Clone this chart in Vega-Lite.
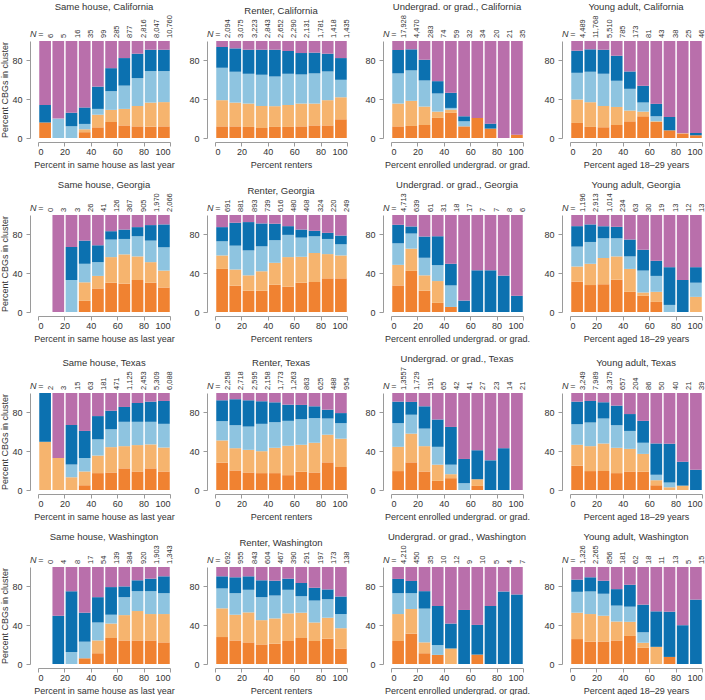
{
"$schema":"https://vega.github.io/schema/vega-lite/v6.json",
"padding":{"left":0,"top":1,"right":0,"bottom":0},
"columns":4,
"spacing":{"row":10,"column":13},
"data":{"values":[
{"p":"SC","lo":0,"n":"6","a":16,"b":0,"c":0,"d":18,"e":66},
{"p":"SC","lo":10,"n":"5","a":0,"b":0,"c":20,"d":0,"e":80},
{"p":"SC","lo":20,"n":"16","a":0,"b":0,"c":12,"d":14,"e":74},
{"p":"SC","lo":30,"n":"35","a":6,"b":3,"c":5.5,"d":17,"e":68.5},
{"p":"SC","lo":40,"n":"99","a":11,"b":13,"c":6,"d":23,"e":47},
{"p":"SC","lo":50,"n":"285","a":16.5,"b":12.5,"c":19.3,"d":23.7,"e":28},
{"p":"SC","lo":60,"n":"877","a":13,"b":17,"c":24,"d":28.4,"e":17.6},
{"p":"SC","lo":70,"n":"2,816","a":12,"b":21,"c":28.7,"d":25.2,"e":13.1},
{"p":"SC","lo":80,"n":"8,047","a":11.7,"b":24.8,"c":32.5,"d":22,"e":9},
{"p":"SC","lo":90,"n":"10,760","a":12,"b":25,"c":32,"d":22,"e":9},
{"p":"RC","lo":0,"n":"2,094","a":12,"b":27,"c":33.4,"d":21.4,"e":6.2},
{"p":"RC","lo":10,"n":"3,075","a":12,"b":24.5,"c":31.8,"d":24.1,"e":7.6},
{"p":"RC","lo":20,"n":"3,223","a":11.4,"b":24.1,"c":30.7,"d":24.8,"e":9},
{"p":"RC","lo":30,"n":"2,843","a":10.3,"b":22.7,"c":32.2,"d":25.8,"e":9},
{"p":"RC","lo":40,"n":"2,652","a":11.4,"b":21.4,"c":30.6,"d":27.6,"e":9},
{"p":"RC","lo":50,"n":"2,290","a":11.4,"b":22.6,"c":32.2,"d":23.5,"e":10.3},
{"p":"RC","lo":60,"n":"2,131","a":12,"b":23.5,"c":30,"d":22.1,"e":12.4},
{"p":"RC","lo":70,"n":"1,781","a":13,"b":22.5,"c":31.1,"d":21.4,"e":12},
{"p":"RC","lo":80,"n":"1,418","a":13,"b":26,"c":29.6,"d":18.3,"e":13.1},
{"p":"RC","lo":90,"n":"1,435","a":19.3,"b":22.7,"c":18,"d":22.4,"e":17.6},
{"p":"UC","lo":0,"n":"17,928","a":12,"b":23.5,"c":31.1,"d":24.1,"e":9.3},
{"p":"UC","lo":10,"n":"4,470","a":12.4,"b":25.9,"c":31.4,"d":21.7,"e":8.6},
{"p":"UC","lo":20,"n":"283","a":13.4,"b":19,"c":26.9,"d":21.4,"e":19.3},
{"p":"UC","lo":30,"n":"74","a":20.7,"b":6.5,"c":18.7,"d":12.7,"e":41.4},
{"p":"UC","lo":40,"n":"59","a":25.9,"b":3.4,"c":1.7,"d":15.6,"e":53.4},
{"p":"UC","lo":50,"n":"32","a":12,"b":0,"c":5.2,"d":5.2,"e":77.6},
{"p":"UC","lo":60,"n":"34","a":20.7,"b":0,"c":0,"d":0,"e":79.3},
{"p":"UC","lo":70,"n":"20","a":9.7,"b":0,"c":0,"d":5.1,"e":85.2},
{"p":"UC","lo":80,"n":"21","a":0,"b":0,"c":0,"d":0,"e":100},
{"p":"UC","lo":90,"n":"35","a":3.4,"b":0,"c":0,"d":0,"e":96.6},
{"p":"YC","lo":0,"n":"4,489","a":15.5,"b":24.2,"c":27.5,"d":22.8,"e":10},
{"p":"YC","lo":10,"n":"11,768","a":11.4,"b":25.5,"c":31.4,"d":23.1,"e":8.6},
{"p":"YC","lo":20,"n":"5,510","a":11,"b":22.1,"c":33.1,"d":24.8,"e":9},
{"p":"YC","lo":30,"n":"785","a":13.4,"b":18.6,"c":27,"d":25.8,"e":15.2},
{"p":"YC","lo":40,"n":"173","a":17.2,"b":11.1,"c":22.4,"d":17.9,"e":31.4},
{"p":"YC","lo":50,"n":"81","a":22.4,"b":4.8,"c":9.4,"d":17.2,"e":46.2},
{"p":"YC","lo":60,"n":"43","a":16.5,"b":0.7,"c":5.2,"d":12.8,"e":64.8},
{"p":"YC","lo":70,"n":"38","a":7.9,"b":0,"c":0,"d":13.8,"e":78.3},
{"p":"YC","lo":80,"n":"25","a":4.5,"b":0.5,"c":0,"d":0,"e":95},
{"p":"YC","lo":90,"n":"46","a":2.8,"b":0,"c":0,"d":2.4,"e":94.8},
{"p":"SG","lo":0,"n":"0"},
{"p":"SG","lo":10,"n":"3","a":0,"b":0,"c":0,"d":0,"e":100},
{"p":"SG","lo":20,"n":"3","a":0,"b":0,"c":33,"d":34,"e":33},
{"p":"SG","lo":30,"n":"26","a":11.5,"b":19.1,"c":19.1,"d":23.9,"e":26.4},
{"p":"SG","lo":40,"n":"41","a":24.3,"b":12.9,"c":14.2,"d":17.4,"e":31.2},
{"p":"SG","lo":50,"n":"126","a":30.2,"b":26.4,"c":18.1,"d":8.6,"e":16.7},
{"p":"SG","lo":60,"n":"367","a":29.2,"b":30.2,"c":15.9,"d":9.7,"e":15},
{"p":"SG","lo":70,"n":"905","a":33,"b":24.3,"c":20.8,"d":9.4,"e":12.5},
{"p":"SG","lo":80,"n":"1,970","a":30.2,"b":21.2,"c":22.2,"d":16,"e":10.4},
{"p":"SG","lo":90,"n":"2,066","a":25.3,"b":17.4,"c":24,"d":23.6,"e":9.7},
{"p":"RG","lo":0,"n":"691","a":44.4,"b":13.9,"c":14.6,"d":14.6,"e":12.5},
{"p":"RG","lo":10,"n":"881","a":27.1,"b":16.7,"c":24.6,"d":23.6,"e":8},
{"p":"RG","lo":20,"n":"893","a":21.9,"b":15.9,"c":25.7,"d":29.2,"e":7.3},
{"p":"RG","lo":30,"n":"739","a":21.9,"b":20.1,"c":25.7,"d":23.6,"e":8.7},
{"p":"RG","lo":40,"n":"616","a":28.1,"b":22.6,"c":23.3,"d":17,"e":9},
{"p":"RG","lo":50,"n":"480","a":26,"b":30.6,"c":22.9,"d":9,"e":11.5},
{"p":"RG","lo":60,"n":"408","a":30.2,"b":26.7,"c":19.8,"d":8.3,"e":15},
{"p":"RG","lo":70,"n":"324","a":30.9,"b":29.9,"c":17.3,"d":5.6,"e":16.3},
{"p":"RG","lo":80,"n":"220","a":34.7,"b":25,"c":15.6,"d":6.3,"e":18.4},
{"p":"RG","lo":90,"n":"249","a":34.7,"b":23.6,"c":11.5,"d":9,"e":21.2},
{"p":"UG","lo":0,"n":"4,713","a":27.4,"b":21.2,"c":22.2,"d":19.1,"e":10.1},
{"p":"UG","lo":10,"n":"639","a":42.4,"b":22.9,"c":15.6,"d":7.3,"e":11.8},
{"p":"UG","lo":20,"n":"61","a":21.9,"b":15.9,"c":18.1,"d":21.9,"e":22.2},
{"p":"UG","lo":30,"n":"31","a":9.4,"b":22.5,"c":16.4,"d":29.8,"e":21.9},
{"p":"UG","lo":40,"n":"18","a":5.2,"b":0,"c":22.2,"d":22.3,"e":50.3},
{"p":"UG","lo":50,"n":"17","a":0,"b":0,"c":0,"d":11.8,"e":88.2},
{"p":"UG","lo":60,"n":"7","a":0,"b":0,"c":0,"d":43,"e":57},
{"p":"UG","lo":70,"n":"7","a":0,"b":0,"c":0,"d":43,"e":57},
{"p":"UG","lo":80,"n":"8","a":0,"b":0,"c":0,"d":37.5,"e":62.5},
{"p":"UG","lo":90,"n":"6","a":0,"b":0,"c":0,"d":16.7,"e":83.3},
{"p":"YG","lo":0,"n":"1,196","a":31.3,"b":15.6,"c":20.5,"d":21.1,"e":11.5},
{"p":"YG","lo":10,"n":"2,913","a":27.8,"b":21.9,"c":22.5,"d":18.1,"e":9.7},
{"p":"YG","lo":20,"n":"1,014","a":28.5,"b":27.1,"c":20.4,"d":12.5,"e":11.5},
{"p":"YG","lo":30,"n":"234","a":33.3,"b":24,"c":18.7,"d":11.8,"e":12.2},
{"p":"YG","lo":40,"n":"63","a":20.8,"b":23.6,"c":12.9,"d":17.4,"e":25.3},
{"p":"YG","lo":50,"n":"30","a":16.7,"b":3.4,"c":22.6,"d":21.5,"e":35.8},
{"p":"YG","lo":60,"n":"19","a":10.4,"b":10.4,"c":16.4,"d":15.6,"e":47.2},
{"p":"YG","lo":70,"n":"13","a":0,"b":0,"c":7.3,"d":38.9,"e":53.8},
{"p":"YG","lo":80,"n":"12","a":0,"b":0,"c":0,"d":33,"e":67},
{"p":"YG","lo":90,"n":"13","a":0,"b":15.6,"c":14.6,"d":16,"e":53.8},
{"p":"ST","lo":0,"n":"2","a":0,"b":49.7,"c":0,"d":50.3,"e":0},
{"p":"ST","lo":10,"n":"3","a":0,"b":33,"c":0,"d":0,"e":67},
{"p":"ST","lo":20,"n":"15","a":0,"b":13.2,"c":13.2,"d":40.7,"e":32.9},
{"p":"ST","lo":30,"n":"63","a":4.9,"b":14.2,"c":13.9,"d":27.9,"e":39.1},
{"p":"ST","lo":40,"n":"181","a":17.4,"b":18.1,"c":16.7,"d":24,"e":23.8},
{"p":"ST","lo":50,"n":"471","a":18.1,"b":26.1,"c":18.4,"d":19.1,"e":18.3},
{"p":"ST","lo":60,"n":"1,125","a":22.3,"b":22.9,"c":25.1,"d":15.3,"e":14.4},
{"p":"ST","lo":70,"n":"2,453","a":19.1,"b":27.2,"c":24,"d":19.4,"e":10.3},
{"p":"ST","lo":80,"n":"5,309","a":22.3,"b":24.7,"c":23.3,"d":20.8,"e":8.9},
{"p":"ST","lo":90,"n":"6,088","a":19.1,"b":24.7,"c":24.4,"d":23.6,"e":8.2},
{"p":"RT","lo":0,"n":"2,258","a":28.2,"b":22.9,"c":19.9,"d":21.5,"e":7.5},
{"p":"RT","lo":10,"n":"2,718","a":20.2,"b":22.9,"c":23.7,"d":26.8,"e":6.4},
{"p":"RT","lo":20,"n":"2,595","a":18.1,"b":23.3,"c":24,"d":27.1,"e":7.5},
{"p":"RT","lo":30,"n":"2,158","a":17.4,"b":22.6,"c":28.2,"d":23.3,"e":8.5},
{"p":"RT","lo":40,"n":"1,773","a":17.4,"b":26.1,"c":26.4,"d":20.5,"e":9.6},
{"p":"RT","lo":50,"n":"1,263","a":15.3,"b":30.3,"c":25.7,"d":16.7,"e":12},
{"p":"RT","lo":60,"n":"863","a":18.8,"b":27.8,"c":26.4,"d":14.7,"e":12.3},
{"p":"RT","lo":70,"n":"625","a":18.1,"b":30.6,"c":25.4,"d":12.2,"e":13.7},
{"p":"RT","lo":80,"n":"488","a":28.5,"b":28.5,"c":16.7,"d":9.1,"e":17.2},
{"p":"RT","lo":90,"n":"954","a":23.7,"b":29.2,"c":16,"d":10.4,"e":20.7},
{"p":"UT","lo":0,"n":"1,3557","a":19.5,"b":25,"c":24.4,"d":22.2,"e":8.9},
{"p":"UT","lo":10,"n":"1,729","a":28.5,"b":29.6,"c":19.5,"d":13.2,"e":9.2},
{"p":"UT","lo":20,"n":"191","a":19.1,"b":26.1,"c":18.1,"d":23,"e":13.7},
{"p":"UT","lo":30,"n":"65","a":9.4,"b":16.7,"c":18.4,"d":28.2,"e":27.3},
{"p":"UT","lo":40,"n":"42","a":12.2,"b":4.1,"c":9.8,"d":38.9,"e":35},
{"p":"UT","lo":50,"n":"41","a":0,"b":0,"c":7,"d":25,"e":68},
{"p":"UT","lo":60,"n":"27","a":4.2,"b":6.9,"c":0,"d":29.9,"e":59},
{"p":"UT","lo":70,"n":"23","a":0,"b":0,"c":0,"d":30.6,"e":69.4},
{"p":"UT","lo":80,"n":"14","a":0,"b":0,"c":0,"d":43.1,"e":56.9},
{"p":"UT","lo":90,"n":"21","a":0,"b":0,"c":0,"d":0,"e":100},
{"p":"YT","lo":0,"n":"3,249","a":25,"b":21.6,"c":21.2,"d":23.3,"e":8.9},
{"p":"YT","lo":10,"n":"7,989","a":19.5,"b":25.7,"c":24.4,"d":22.2,"e":8.2},
{"p":"YT","lo":20,"n":"3,375","a":19.5,"b":28.5,"c":25.7,"d":16.7,"e":9.6},
{"p":"YT","lo":30,"n":"657","a":17.4,"b":26.1,"c":23.3,"d":20.2,"e":13},
{"p":"YT","lo":40,"n":"204","a":19.1,"b":23.3,"c":18.5,"d":17.4,"e":21.7},
{"p":"YT","lo":50,"n":"86","a":18.8,"b":18.4,"c":11.5,"d":22.6,"e":28.7},
{"p":"YT","lo":60,"n":"50","a":4.9,"b":5.2,"c":5.6,"d":32.3,"e":52},
{"p":"YT","lo":70,"n":"40","a":0,"b":2.8,"c":4.9,"d":40,"e":52.3},
{"p":"YT","lo":80,"n":"21","a":0,"b":4.5,"c":0,"d":24.7,"e":70.8},
{"p":"YT","lo":90,"n":"39","a":0,"b":0,"c":0,"d":20.9,"e":79.1},
{"p":"SW","lo":0,"n":"0"},
{"p":"SW","lo":10,"n":"4","a":0,"b":0,"c":0,"d":49.7,"e":50.3},
{"p":"SW","lo":20,"n":"8","a":0,"b":0,"c":12.5,"d":62.6,"e":24.9},
{"p":"SW","lo":30,"n":"17","a":5.9,"b":0,"c":17.1,"d":29.9,"e":47.1},
{"p":"SW","lo":40,"n":"54","a":11.1,"b":13.2,"c":18.5,"d":26.1,"e":31.1},
{"p":"SW","lo":50,"n":"139","a":26.8,"b":14.9,"c":9.1,"d":28.5,"e":20.7},
{"p":"SW","lo":60,"n":"384","a":24.3,"b":26.1,"c":18.5,"d":11.1,"e":20},
{"p":"SW","lo":70,"n":"920","a":24.3,"b":30.3,"c":20.5,"d":11.2,"e":13.7},
{"p":"SW","lo":80,"n":"1,903","a":24.3,"b":27.2,"c":23.6,"d":12.9,"e":12},
{"p":"SW","lo":90,"n":"1,343","a":22.3,"b":29.2,"c":21.5,"d":17.4,"e":9.6},
{"p":"RW","lo":0,"n":"692","a":27.8,"b":29.6,"c":20.5,"d":12.5,"e":9.6},
{"p":"RW","lo":10,"n":"955","a":24.3,"b":26.5,"c":22.2,"d":16.4,"e":10.6},
{"p":"RW","lo":20,"n":"843","a":22.3,"b":30.9,"c":23.3,"d":13.9,"e":9.6},
{"p":"RW","lo":30,"n":"604","a":20.2,"b":25,"c":23.7,"d":17.4,"e":13.7},
{"p":"RW","lo":40,"n":"467","a":20.9,"b":26.1,"c":23.6,"d":15.3,"e":14.1},
{"p":"RW","lo":50,"n":"390","a":23.7,"b":28.5,"c":24.3,"d":11.5,"e":12},
{"p":"RW","lo":60,"n":"291","a":26.8,"b":26.1,"c":17,"d":13.6,"e":16.5},
{"p":"RW","lo":70,"n":"197","a":23.7,"b":19.1,"c":22.6,"d":13.2,"e":21.4},
{"p":"RW","lo":80,"n":"173","a":26.1,"b":21.6,"c":19.1,"d":10.1,"e":23.1},
{"p":"RW","lo":90,"n":"138","a":16,"b":20.9,"c":14.6,"d":18.1,"e":30.4},
{"p":"UW","lo":0,"n":"4,210","a":23.7,"b":27.8,"c":21.5,"d":14.7,"e":12.3},
{"p":"UW","lo":10,"n":"450","a":31.3,"b":25.4,"c":16.3,"d":12.6,"e":14.4},
{"p":"UW","lo":20,"n":"35","a":11.1,"b":11.2,"c":34.8,"d":18,"e":24.9},
{"p":"UW","lo":30,"n":"10","a":9.4,"b":0,"c":10.1,"d":40.3,"e":40.2},
{"p":"UW","lo":40,"n":"12","a":0,"b":16,"c":0,"d":25.7,"e":58.3},
{"p":"UW","lo":50,"n":"9","a":0,"b":0,"c":0,"d":55.7,"e":44.3},
{"p":"UW","lo":60,"n":"10","a":9.7,"b":0,"c":0,"d":30.6,"e":59.7},
{"p":"UW","lo":70,"n":"5","a":0,"b":0,"c":0,"d":59.8,"e":40.2},
{"p":"UW","lo":80,"n":"4","a":0,"b":0,"c":0,"d":74.8,"e":25.2},
{"p":"UW","lo":90,"n":"7","a":0,"b":0,"c":0,"d":71.7,"e":28.3},
{"p":"YW","lo":0,"n":"1,326","a":25.7,"b":27.2,"c":21.5,"d":12.6,"e":13},
{"p":"YW","lo":10,"n":"2,265","a":23,"b":28.5,"c":23.3,"d":14.6,"e":10.6},
{"p":"YW","lo":20,"n":"856","a":23.3,"b":26.4,"c":22.6,"d":13.6,"e":14.1},
{"p":"YW","lo":30,"n":"181","a":24.3,"b":19.5,"c":16.4,"d":17,"e":22.8},
{"p":"YW","lo":40,"n":"62","a":28.9,"b":14.6,"c":15.6,"d":22.6,"e":18.3},
{"p":"YW","lo":50,"n":"18","a":16.7,"b":5.2,"c":10.8,"d":28.5,"e":38.8},
{"p":"YW","lo":60,"n":"11","a":0,"b":17.7,"c":0,"d":36.6,"e":45.7},
{"p":"YW","lo":70,"n":"13","a":7.3,"b":0,"c":0,"d":46.6,"e":46.1},
{"p":"YW","lo":80,"n":"5","a":0,"b":0,"c":0,"d":40,"e":60},
{"p":"YW","lo":90,"n":"15","a":0,"b":0,"c":0,"d":66.4,"e":33.6}
]},
"concat":[
{"title":"Same house, California","width":132,"height":97,"transform":[{"filter":"datum.p==='SC'"}],"encoding":{"x":{"field":"lo","type":"quantitative","bin":{"extent":[0,100],"step":10},"scale":{"domain":[0,100]},"axis":{"title":"Percent in same house as last year","values":[0,20,40,60,80,100]}}},"layer":[
{"transform":[{"fold":["a","b","c","d","e"],"as":["k","v"]}],"mark":{"type":"bar"},"encoding":{"y":{"field":"v","type":"quantitative","stack":"zero","scale":{"domain":[0,100]},"axis":{"title":"Percent CBGs in cluster","values":[0,20,40,60,80]}},"color":{"field":"k","type":"nominal","scale":{"domain":["a","b","c","d","e"],"range":["#F08231","#F6B46E","#8EC4E0","#0C71B0","#B96FAB"]},"legend":null},"order":{"field":"k","type":"ordinal","sort":"ascending"}}},
{"mark":{"type":"text","angle":270,"align":"left","baseline":"middle","dx":3,"dy":6.6,"fontSize":7.5,"color":"#333"},"encoding":{"x":{"field":"lo","type":"quantitative","scale":{"domain":[0,100]}},"y":{"datum":100},"text":{"field":"n"}}},
{"transform":[{"filter":"datum.lo===0"}],"mark":{"type":"text","text":"=","align":"right","baseline":"bottom","dx":-1,"dy":-2,"fontSize":9,"color":"#333"},"encoding":{"x":{"datum":0},"y":{"datum":100}}},
{"transform":[{"filter":"datum.lo===0"}],"mark":{"type":"text","text":"N","fontStyle":"italic","align":"right","baseline":"bottom","dx":-8,"dy":-2,"fontSize":9,"color":"#333"},"encoding":{"x":{"datum":0},"y":{"datum":100}}}
]},
{"title":"Renter, California","width":132,"height":97,"transform":[{"filter":"datum.p==='RC'"}],"encoding":{"x":{"field":"lo","type":"quantitative","bin":{"extent":[0,100],"step":10},"scale":{"domain":[0,100]},"axis":{"title":"Percent renters","values":[0,20,40,60,80,100]}}},"layer":[
{"transform":[{"fold":["a","b","c","d","e"],"as":["k","v"]}],"mark":{"type":"bar"},"encoding":{"y":{"field":"v","type":"quantitative","stack":"zero","scale":{"domain":[0,100]},"axis":{"title":null,"values":[0,20,40,60,80]}},"color":{"field":"k","type":"nominal","scale":{"domain":["a","b","c","d","e"],"range":["#F08231","#F6B46E","#8EC4E0","#0C71B0","#B96FAB"]},"legend":null},"order":{"field":"k","type":"ordinal","sort":"ascending"}}},
{"mark":{"type":"text","angle":270,"align":"left","baseline":"middle","dx":3,"dy":6.6,"fontSize":7.5,"color":"#333"},"encoding":{"x":{"field":"lo","type":"quantitative","scale":{"domain":[0,100]}},"y":{"datum":100},"text":{"field":"n"}}},
{"transform":[{"filter":"datum.lo===0"}],"mark":{"type":"text","text":"=","align":"right","baseline":"bottom","dx":-1,"dy":-2,"fontSize":9,"color":"#333"},"encoding":{"x":{"datum":0},"y":{"datum":100}}},
{"transform":[{"filter":"datum.lo===0"}],"mark":{"type":"text","text":"N","fontStyle":"italic","align":"right","baseline":"bottom","dx":-8,"dy":-2,"fontSize":9,"color":"#333"},"encoding":{"x":{"datum":0},"y":{"datum":100}}}
]},
{"title":"Undergrad. or grad., California","width":132,"height":97,"transform":[{"filter":"datum.p==='UC'"}],"encoding":{"x":{"field":"lo","type":"quantitative","bin":{"extent":[0,100],"step":10},"scale":{"domain":[0,100]},"axis":{"title":"Percent enrolled undergrad. or grad.","values":[0,20,40,60,80,100]}}},"layer":[
{"transform":[{"fold":["a","b","c","d","e"],"as":["k","v"]}],"mark":{"type":"bar"},"encoding":{"y":{"field":"v","type":"quantitative","stack":"zero","scale":{"domain":[0,100]},"axis":{"title":null,"values":[0,20,40,60,80]}},"color":{"field":"k","type":"nominal","scale":{"domain":["a","b","c","d","e"],"range":["#F08231","#F6B46E","#8EC4E0","#0C71B0","#B96FAB"]},"legend":null},"order":{"field":"k","type":"ordinal","sort":"ascending"}}},
{"mark":{"type":"text","angle":270,"align":"left","baseline":"middle","dx":3,"dy":6.6,"fontSize":7.5,"color":"#333"},"encoding":{"x":{"field":"lo","type":"quantitative","scale":{"domain":[0,100]}},"y":{"datum":100},"text":{"field":"n"}}},
{"transform":[{"filter":"datum.lo===0"}],"mark":{"type":"text","text":"=","align":"right","baseline":"bottom","dx":-1,"dy":-2,"fontSize":9,"color":"#333"},"encoding":{"x":{"datum":0},"y":{"datum":100}}},
{"transform":[{"filter":"datum.lo===0"}],"mark":{"type":"text","text":"N","fontStyle":"italic","align":"right","baseline":"bottom","dx":-8,"dy":-2,"fontSize":9,"color":"#333"},"encoding":{"x":{"datum":0},"y":{"datum":100}}}
]},
{"title":"Young adult, California","width":132,"height":97,"transform":[{"filter":"datum.p==='YC'"}],"encoding":{"x":{"field":"lo","type":"quantitative","bin":{"extent":[0,100],"step":10},"scale":{"domain":[0,100]},"axis":{"title":"Percent aged 18–29 years","values":[0,20,40,60,80,100]}}},"layer":[
{"transform":[{"fold":["a","b","c","d","e"],"as":["k","v"]}],"mark":{"type":"bar"},"encoding":{"y":{"field":"v","type":"quantitative","stack":"zero","scale":{"domain":[0,100]},"axis":{"title":null,"values":[0,20,40,60,80]}},"color":{"field":"k","type":"nominal","scale":{"domain":["a","b","c","d","e"],"range":["#F08231","#F6B46E","#8EC4E0","#0C71B0","#B96FAB"]},"legend":null},"order":{"field":"k","type":"ordinal","sort":"ascending"}}},
{"mark":{"type":"text","angle":270,"align":"left","baseline":"middle","dx":3,"dy":6.6,"fontSize":7.5,"color":"#333"},"encoding":{"x":{"field":"lo","type":"quantitative","scale":{"domain":[0,100]}},"y":{"datum":100},"text":{"field":"n"}}},
{"transform":[{"filter":"datum.lo===0"}],"mark":{"type":"text","text":"=","align":"right","baseline":"bottom","dx":-1,"dy":-2,"fontSize":9,"color":"#333"},"encoding":{"x":{"datum":0},"y":{"datum":100}}},
{"transform":[{"filter":"datum.lo===0"}],"mark":{"type":"text","text":"N","fontStyle":"italic","align":"right","baseline":"bottom","dx":-8,"dy":-2,"fontSize":9,"color":"#333"},"encoding":{"x":{"datum":0},"y":{"datum":100}}}
]},
{"title":"Same house, Georgia","width":132,"height":97,"transform":[{"filter":"datum.p==='SG'"}],"encoding":{"x":{"field":"lo","type":"quantitative","bin":{"extent":[0,100],"step":10},"scale":{"domain":[0,100]},"axis":{"title":"Percent in same house as last year","values":[0,20,40,60,80,100]}}},"layer":[
{"transform":[{"fold":["a","b","c","d","e"],"as":["k","v"]}],"mark":{"type":"bar"},"encoding":{"y":{"field":"v","type":"quantitative","stack":"zero","scale":{"domain":[0,100]},"axis":{"title":"Percent CBGs in cluster","values":[0,20,40,60,80]}},"color":{"field":"k","type":"nominal","scale":{"domain":["a","b","c","d","e"],"range":["#F08231","#F6B46E","#8EC4E0","#0C71B0","#B96FAB"]},"legend":null},"order":{"field":"k","type":"ordinal","sort":"ascending"}}},
{"mark":{"type":"text","angle":270,"align":"left","baseline":"middle","dx":3,"dy":6.6,"fontSize":7.5,"color":"#333"},"encoding":{"x":{"field":"lo","type":"quantitative","scale":{"domain":[0,100]}},"y":{"datum":100},"text":{"field":"n"}}},
{"transform":[{"filter":"datum.lo===0"}],"mark":{"type":"text","text":"=","align":"right","baseline":"bottom","dx":-1,"dy":-2,"fontSize":9,"color":"#333"},"encoding":{"x":{"datum":0},"y":{"datum":100}}},
{"transform":[{"filter":"datum.lo===0"}],"mark":{"type":"text","text":"N","fontStyle":"italic","align":"right","baseline":"bottom","dx":-8,"dy":-2,"fontSize":9,"color":"#333"},"encoding":{"x":{"datum":0},"y":{"datum":100}}}
]},
{"title":"Renter, Georgia","width":132,"height":97,"transform":[{"filter":"datum.p==='RG'"}],"encoding":{"x":{"field":"lo","type":"quantitative","bin":{"extent":[0,100],"step":10},"scale":{"domain":[0,100]},"axis":{"title":"Percent renters","values":[0,20,40,60,80,100]}}},"layer":[
{"transform":[{"fold":["a","b","c","d","e"],"as":["k","v"]}],"mark":{"type":"bar"},"encoding":{"y":{"field":"v","type":"quantitative","stack":"zero","scale":{"domain":[0,100]},"axis":{"title":null,"values":[0,20,40,60,80]}},"color":{"field":"k","type":"nominal","scale":{"domain":["a","b","c","d","e"],"range":["#F08231","#F6B46E","#8EC4E0","#0C71B0","#B96FAB"]},"legend":null},"order":{"field":"k","type":"ordinal","sort":"ascending"}}},
{"mark":{"type":"text","angle":270,"align":"left","baseline":"middle","dx":3,"dy":6.6,"fontSize":7.5,"color":"#333"},"encoding":{"x":{"field":"lo","type":"quantitative","scale":{"domain":[0,100]}},"y":{"datum":100},"text":{"field":"n"}}},
{"transform":[{"filter":"datum.lo===0"}],"mark":{"type":"text","text":"=","align":"right","baseline":"bottom","dx":-1,"dy":-2,"fontSize":9,"color":"#333"},"encoding":{"x":{"datum":0},"y":{"datum":100}}},
{"transform":[{"filter":"datum.lo===0"}],"mark":{"type":"text","text":"N","fontStyle":"italic","align":"right","baseline":"bottom","dx":-8,"dy":-2,"fontSize":9,"color":"#333"},"encoding":{"x":{"datum":0},"y":{"datum":100}}}
]},
{"title":"Undergrad. or grad., Georgia","width":132,"height":97,"transform":[{"filter":"datum.p==='UG'"}],"encoding":{"x":{"field":"lo","type":"quantitative","bin":{"extent":[0,100],"step":10},"scale":{"domain":[0,100]},"axis":{"title":"Percent enrolled undergrad. or grad.","values":[0,20,40,60,80,100]}}},"layer":[
{"transform":[{"fold":["a","b","c","d","e"],"as":["k","v"]}],"mark":{"type":"bar"},"encoding":{"y":{"field":"v","type":"quantitative","stack":"zero","scale":{"domain":[0,100]},"axis":{"title":null,"values":[0,20,40,60,80]}},"color":{"field":"k","type":"nominal","scale":{"domain":["a","b","c","d","e"],"range":["#F08231","#F6B46E","#8EC4E0","#0C71B0","#B96FAB"]},"legend":null},"order":{"field":"k","type":"ordinal","sort":"ascending"}}},
{"mark":{"type":"text","angle":270,"align":"left","baseline":"middle","dx":3,"dy":6.6,"fontSize":7.5,"color":"#333"},"encoding":{"x":{"field":"lo","type":"quantitative","scale":{"domain":[0,100]}},"y":{"datum":100},"text":{"field":"n"}}},
{"transform":[{"filter":"datum.lo===0"}],"mark":{"type":"text","text":"=","align":"right","baseline":"bottom","dx":-1,"dy":-2,"fontSize":9,"color":"#333"},"encoding":{"x":{"datum":0},"y":{"datum":100}}},
{"transform":[{"filter":"datum.lo===0"}],"mark":{"type":"text","text":"N","fontStyle":"italic","align":"right","baseline":"bottom","dx":-8,"dy":-2,"fontSize":9,"color":"#333"},"encoding":{"x":{"datum":0},"y":{"datum":100}}}
]},
{"title":"Young adult, Georgia","width":132,"height":97,"transform":[{"filter":"datum.p==='YG'"}],"encoding":{"x":{"field":"lo","type":"quantitative","bin":{"extent":[0,100],"step":10},"scale":{"domain":[0,100]},"axis":{"title":"Percent aged 18–29 years","values":[0,20,40,60,80,100]}}},"layer":[
{"transform":[{"fold":["a","b","c","d","e"],"as":["k","v"]}],"mark":{"type":"bar"},"encoding":{"y":{"field":"v","type":"quantitative","stack":"zero","scale":{"domain":[0,100]},"axis":{"title":null,"values":[0,20,40,60,80]}},"color":{"field":"k","type":"nominal","scale":{"domain":["a","b","c","d","e"],"range":["#F08231","#F6B46E","#8EC4E0","#0C71B0","#B96FAB"]},"legend":null},"order":{"field":"k","type":"ordinal","sort":"ascending"}}},
{"mark":{"type":"text","angle":270,"align":"left","baseline":"middle","dx":3,"dy":6.6,"fontSize":7.5,"color":"#333"},"encoding":{"x":{"field":"lo","type":"quantitative","scale":{"domain":[0,100]}},"y":{"datum":100},"text":{"field":"n"}}},
{"transform":[{"filter":"datum.lo===0"}],"mark":{"type":"text","text":"=","align":"right","baseline":"bottom","dx":-1,"dy":-2,"fontSize":9,"color":"#333"},"encoding":{"x":{"datum":0},"y":{"datum":100}}},
{"transform":[{"filter":"datum.lo===0"}],"mark":{"type":"text","text":"N","fontStyle":"italic","align":"right","baseline":"bottom","dx":-8,"dy":-2,"fontSize":9,"color":"#333"},"encoding":{"x":{"datum":0},"y":{"datum":100}}}
]},
{"title":"Same house, Texas","width":132,"height":97,"transform":[{"filter":"datum.p==='ST'"}],"encoding":{"x":{"field":"lo","type":"quantitative","bin":{"extent":[0,100],"step":10},"scale":{"domain":[0,100]},"axis":{"title":"Percent in same house as last year","values":[0,20,40,60,80,100]}}},"layer":[
{"transform":[{"fold":["a","b","c","d","e"],"as":["k","v"]}],"mark":{"type":"bar"},"encoding":{"y":{"field":"v","type":"quantitative","stack":"zero","scale":{"domain":[0,100]},"axis":{"title":"Percent CBGs in cluster","values":[0,20,40,60,80]}},"color":{"field":"k","type":"nominal","scale":{"domain":["a","b","c","d","e"],"range":["#F08231","#F6B46E","#8EC4E0","#0C71B0","#B96FAB"]},"legend":null},"order":{"field":"k","type":"ordinal","sort":"ascending"}}},
{"mark":{"type":"text","angle":270,"align":"left","baseline":"middle","dx":3,"dy":6.6,"fontSize":7.5,"color":"#333"},"encoding":{"x":{"field":"lo","type":"quantitative","scale":{"domain":[0,100]}},"y":{"datum":100},"text":{"field":"n"}}},
{"transform":[{"filter":"datum.lo===0"}],"mark":{"type":"text","text":"=","align":"right","baseline":"bottom","dx":-1,"dy":-2,"fontSize":9,"color":"#333"},"encoding":{"x":{"datum":0},"y":{"datum":100}}},
{"transform":[{"filter":"datum.lo===0"}],"mark":{"type":"text","text":"N","fontStyle":"italic","align":"right","baseline":"bottom","dx":-8,"dy":-2,"fontSize":9,"color":"#333"},"encoding":{"x":{"datum":0},"y":{"datum":100}}}
]},
{"title":"Renter, Texas","width":132,"height":97,"transform":[{"filter":"datum.p==='RT'"}],"encoding":{"x":{"field":"lo","type":"quantitative","bin":{"extent":[0,100],"step":10},"scale":{"domain":[0,100]},"axis":{"title":"Percent renters","values":[0,20,40,60,80,100]}}},"layer":[
{"transform":[{"fold":["a","b","c","d","e"],"as":["k","v"]}],"mark":{"type":"bar"},"encoding":{"y":{"field":"v","type":"quantitative","stack":"zero","scale":{"domain":[0,100]},"axis":{"title":null,"values":[0,20,40,60,80]}},"color":{"field":"k","type":"nominal","scale":{"domain":["a","b","c","d","e"],"range":["#F08231","#F6B46E","#8EC4E0","#0C71B0","#B96FAB"]},"legend":null},"order":{"field":"k","type":"ordinal","sort":"ascending"}}},
{"mark":{"type":"text","angle":270,"align":"left","baseline":"middle","dx":3,"dy":6.6,"fontSize":7.5,"color":"#333"},"encoding":{"x":{"field":"lo","type":"quantitative","scale":{"domain":[0,100]}},"y":{"datum":100},"text":{"field":"n"}}},
{"transform":[{"filter":"datum.lo===0"}],"mark":{"type":"text","text":"=","align":"right","baseline":"bottom","dx":-1,"dy":-2,"fontSize":9,"color":"#333"},"encoding":{"x":{"datum":0},"y":{"datum":100}}},
{"transform":[{"filter":"datum.lo===0"}],"mark":{"type":"text","text":"N","fontStyle":"italic","align":"right","baseline":"bottom","dx":-8,"dy":-2,"fontSize":9,"color":"#333"},"encoding":{"x":{"datum":0},"y":{"datum":100}}}
]},
{"title":"Undergrad. or grad., Texas","width":132,"height":97,"transform":[{"filter":"datum.p==='UT'"}],"encoding":{"x":{"field":"lo","type":"quantitative","bin":{"extent":[0,100],"step":10},"scale":{"domain":[0,100]},"axis":{"title":"Percent enrolled undergrad. or grad.","values":[0,20,40,60,80,100]}}},"layer":[
{"transform":[{"fold":["a","b","c","d","e"],"as":["k","v"]}],"mark":{"type":"bar"},"encoding":{"y":{"field":"v","type":"quantitative","stack":"zero","scale":{"domain":[0,100]},"axis":{"title":null,"values":[0,20,40,60,80]}},"color":{"field":"k","type":"nominal","scale":{"domain":["a","b","c","d","e"],"range":["#F08231","#F6B46E","#8EC4E0","#0C71B0","#B96FAB"]},"legend":null},"order":{"field":"k","type":"ordinal","sort":"ascending"}}},
{"mark":{"type":"text","angle":270,"align":"left","baseline":"middle","dx":3,"dy":6.6,"fontSize":7.5,"color":"#333"},"encoding":{"x":{"field":"lo","type":"quantitative","scale":{"domain":[0,100]}},"y":{"datum":100},"text":{"field":"n"}}},
{"transform":[{"filter":"datum.lo===0"}],"mark":{"type":"text","text":"=","align":"right","baseline":"bottom","dx":-1,"dy":-2,"fontSize":9,"color":"#333"},"encoding":{"x":{"datum":0},"y":{"datum":100}}},
{"transform":[{"filter":"datum.lo===0"}],"mark":{"type":"text","text":"N","fontStyle":"italic","align":"right","baseline":"bottom","dx":-8,"dy":-2,"fontSize":9,"color":"#333"},"encoding":{"x":{"datum":0},"y":{"datum":100}}}
]},
{"title":"Young adult, Texas","width":132,"height":97,"transform":[{"filter":"datum.p==='YT'"}],"encoding":{"x":{"field":"lo","type":"quantitative","bin":{"extent":[0,100],"step":10},"scale":{"domain":[0,100]},"axis":{"title":"Percent aged 18–29 years","values":[0,20,40,60,80,100]}}},"layer":[
{"transform":[{"fold":["a","b","c","d","e"],"as":["k","v"]}],"mark":{"type":"bar"},"encoding":{"y":{"field":"v","type":"quantitative","stack":"zero","scale":{"domain":[0,100]},"axis":{"title":null,"values":[0,20,40,60,80]}},"color":{"field":"k","type":"nominal","scale":{"domain":["a","b","c","d","e"],"range":["#F08231","#F6B46E","#8EC4E0","#0C71B0","#B96FAB"]},"legend":null},"order":{"field":"k","type":"ordinal","sort":"ascending"}}},
{"mark":{"type":"text","angle":270,"align":"left","baseline":"middle","dx":3,"dy":6.6,"fontSize":7.5,"color":"#333"},"encoding":{"x":{"field":"lo","type":"quantitative","scale":{"domain":[0,100]}},"y":{"datum":100},"text":{"field":"n"}}},
{"transform":[{"filter":"datum.lo===0"}],"mark":{"type":"text","text":"=","align":"right","baseline":"bottom","dx":-1,"dy":-2,"fontSize":9,"color":"#333"},"encoding":{"x":{"datum":0},"y":{"datum":100}}},
{"transform":[{"filter":"datum.lo===0"}],"mark":{"type":"text","text":"N","fontStyle":"italic","align":"right","baseline":"bottom","dx":-8,"dy":-2,"fontSize":9,"color":"#333"},"encoding":{"x":{"datum":0},"y":{"datum":100}}}
]},
{"title":"Same house, Washington","width":132,"height":97,"transform":[{"filter":"datum.p==='SW'"}],"encoding":{"x":{"field":"lo","type":"quantitative","bin":{"extent":[0,100],"step":10},"scale":{"domain":[0,100]},"axis":{"title":"Percent in same house as last year","values":[0,20,40,60,80,100]}}},"layer":[
{"transform":[{"fold":["a","b","c","d","e"],"as":["k","v"]}],"mark":{"type":"bar"},"encoding":{"y":{"field":"v","type":"quantitative","stack":"zero","scale":{"domain":[0,100]},"axis":{"title":"Percent CBGs in cluster","values":[0,20,40,60,80]}},"color":{"field":"k","type":"nominal","scale":{"domain":["a","b","c","d","e"],"range":["#F08231","#F6B46E","#8EC4E0","#0C71B0","#B96FAB"]},"legend":null},"order":{"field":"k","type":"ordinal","sort":"ascending"}}},
{"mark":{"type":"text","angle":270,"align":"left","baseline":"middle","dx":3,"dy":6.6,"fontSize":7.5,"color":"#333"},"encoding":{"x":{"field":"lo","type":"quantitative","scale":{"domain":[0,100]}},"y":{"datum":100},"text":{"field":"n"}}},
{"transform":[{"filter":"datum.lo===0"}],"mark":{"type":"text","text":"=","align":"right","baseline":"bottom","dx":-1,"dy":-2,"fontSize":9,"color":"#333"},"encoding":{"x":{"datum":0},"y":{"datum":100}}},
{"transform":[{"filter":"datum.lo===0"}],"mark":{"type":"text","text":"N","fontStyle":"italic","align":"right","baseline":"bottom","dx":-8,"dy":-2,"fontSize":9,"color":"#333"},"encoding":{"x":{"datum":0},"y":{"datum":100}}}
]},
{"title":"Renter, Washington","width":132,"height":97,"transform":[{"filter":"datum.p==='RW'"}],"encoding":{"x":{"field":"lo","type":"quantitative","bin":{"extent":[0,100],"step":10},"scale":{"domain":[0,100]},"axis":{"title":"Percent renters","values":[0,20,40,60,80,100]}}},"layer":[
{"transform":[{"fold":["a","b","c","d","e"],"as":["k","v"]}],"mark":{"type":"bar"},"encoding":{"y":{"field":"v","type":"quantitative","stack":"zero","scale":{"domain":[0,100]},"axis":{"title":null,"values":[0,20,40,60,80]}},"color":{"field":"k","type":"nominal","scale":{"domain":["a","b","c","d","e"],"range":["#F08231","#F6B46E","#8EC4E0","#0C71B0","#B96FAB"]},"legend":null},"order":{"field":"k","type":"ordinal","sort":"ascending"}}},
{"mark":{"type":"text","angle":270,"align":"left","baseline":"middle","dx":3,"dy":6.6,"fontSize":7.5,"color":"#333"},"encoding":{"x":{"field":"lo","type":"quantitative","scale":{"domain":[0,100]}},"y":{"datum":100},"text":{"field":"n"}}},
{"transform":[{"filter":"datum.lo===0"}],"mark":{"type":"text","text":"=","align":"right","baseline":"bottom","dx":-1,"dy":-2,"fontSize":9,"color":"#333"},"encoding":{"x":{"datum":0},"y":{"datum":100}}},
{"transform":[{"filter":"datum.lo===0"}],"mark":{"type":"text","text":"N","fontStyle":"italic","align":"right","baseline":"bottom","dx":-8,"dy":-2,"fontSize":9,"color":"#333"},"encoding":{"x":{"datum":0},"y":{"datum":100}}}
]},
{"title":"Undergrad. or grad., Washington","width":132,"height":97,"transform":[{"filter":"datum.p==='UW'"}],"encoding":{"x":{"field":"lo","type":"quantitative","bin":{"extent":[0,100],"step":10},"scale":{"domain":[0,100]},"axis":{"title":"Percent enrolled undergrad. or grad.","values":[0,20,40,60,80,100]}}},"layer":[
{"transform":[{"fold":["a","b","c","d","e"],"as":["k","v"]}],"mark":{"type":"bar"},"encoding":{"y":{"field":"v","type":"quantitative","stack":"zero","scale":{"domain":[0,100]},"axis":{"title":null,"values":[0,20,40,60,80]}},"color":{"field":"k","type":"nominal","scale":{"domain":["a","b","c","d","e"],"range":["#F08231","#F6B46E","#8EC4E0","#0C71B0","#B96FAB"]},"legend":null},"order":{"field":"k","type":"ordinal","sort":"ascending"}}},
{"mark":{"type":"text","angle":270,"align":"left","baseline":"middle","dx":3,"dy":6.6,"fontSize":7.5,"color":"#333"},"encoding":{"x":{"field":"lo","type":"quantitative","scale":{"domain":[0,100]}},"y":{"datum":100},"text":{"field":"n"}}},
{"transform":[{"filter":"datum.lo===0"}],"mark":{"type":"text","text":"=","align":"right","baseline":"bottom","dx":-1,"dy":-2,"fontSize":9,"color":"#333"},"encoding":{"x":{"datum":0},"y":{"datum":100}}},
{"transform":[{"filter":"datum.lo===0"}],"mark":{"type":"text","text":"N","fontStyle":"italic","align":"right","baseline":"bottom","dx":-8,"dy":-2,"fontSize":9,"color":"#333"},"encoding":{"x":{"datum":0},"y":{"datum":100}}}
]},
{"title":"Young adult, Washington","width":132,"height":97,"transform":[{"filter":"datum.p==='YW'"}],"encoding":{"x":{"field":"lo","type":"quantitative","bin":{"extent":[0,100],"step":10},"scale":{"domain":[0,100]},"axis":{"title":"Percent aged 18–29 years","values":[0,20,40,60,80,100]}}},"layer":[
{"transform":[{"fold":["a","b","c","d","e"],"as":["k","v"]}],"mark":{"type":"bar"},"encoding":{"y":{"field":"v","type":"quantitative","stack":"zero","scale":{"domain":[0,100]},"axis":{"title":null,"values":[0,20,40,60,80]}},"color":{"field":"k","type":"nominal","scale":{"domain":["a","b","c","d","e"],"range":["#F08231","#F6B46E","#8EC4E0","#0C71B0","#B96FAB"]},"legend":null},"order":{"field":"k","type":"ordinal","sort":"ascending"}}},
{"mark":{"type":"text","angle":270,"align":"left","baseline":"middle","dx":3,"dy":6.6,"fontSize":7.5,"color":"#333"},"encoding":{"x":{"field":"lo","type":"quantitative","scale":{"domain":[0,100]}},"y":{"datum":100},"text":{"field":"n"}}},
{"transform":[{"filter":"datum.lo===0"}],"mark":{"type":"text","text":"=","align":"right","baseline":"bottom","dx":-1,"dy":-2,"fontSize":9,"color":"#333"},"encoding":{"x":{"datum":0},"y":{"datum":100}}},
{"transform":[{"filter":"datum.lo===0"}],"mark":{"type":"text","text":"N","fontStyle":"italic","align":"right","baseline":"bottom","dx":-8,"dy":-2,"fontSize":9,"color":"#333"},"encoding":{"x":{"datum":0},"y":{"datum":100}}}
]}
],
"config":{
"font":"Liberation Sans",
"view":{"stroke":null},
"bar":{"binSpacing":1.5},
"axis":{"grid":false,"domainColor":"#9a9a9a","tickColor":"#9a9a9a","labelColor":"#333","titleColor":"#333","labelFontSize":9,"titleFontSize":9,"titleFontWeight":"normal","tickSize":4},
"axisX":{"offset":4,"labelPadding":1,"titlePadding":4,"labelAngle":0},
"axisY":{"offset":8,"labelPadding":4,"titlePadding":2},
"title":{"fontSize":9.5,"fontWeight":"normal","color":"#333","frame":"group","offset":4}
}
}
